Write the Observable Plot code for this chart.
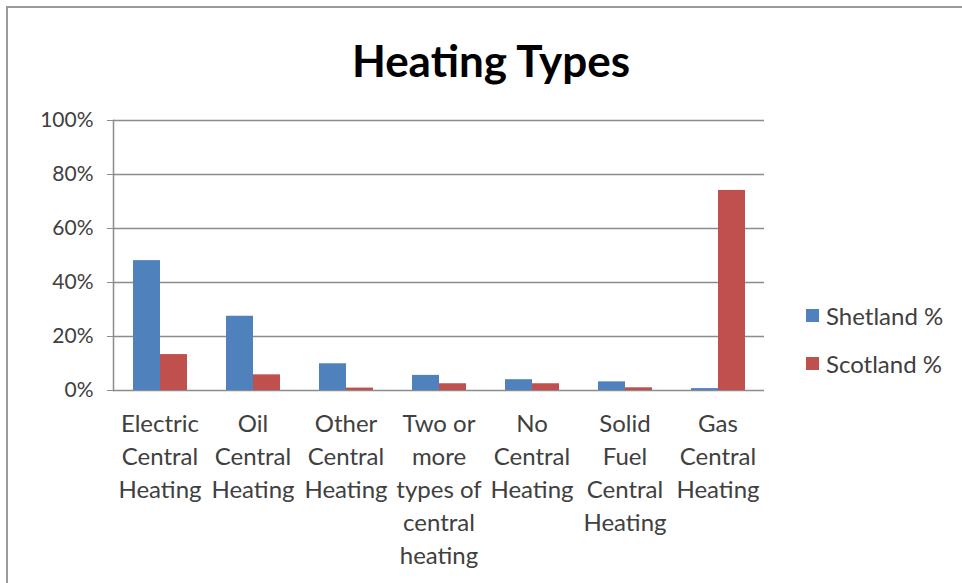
<!DOCTYPE html>
<html>
<head>
<meta charset="utf-8">
<script src="https://cdn.jsdelivr.net/npm/d3@7"></script>
<script src="https://cdn.jsdelivr.net/npm/@observablehq/plot@0.6"></script>
<style>
  html, body { margin: 0; padding: 0; background: #fff; }
  #wrap { position: relative; width: 962px; height: 583px; overflow: hidden; font-family: Lato, sans-serif; }
  #frame { position: absolute; left: 6px; top: 6px; width: 1000px; height: 1000px; border-left: 2px solid #9a9a9a; border-top: 2px solid #9a9a9a; }
  #title { position: absolute; left: 0; width: 982px; top: 38px; text-align: center; font-size: 44px; line-height: 44px; font-weight: bold; color: #000; }
  #chart { position: absolute; left: 0; top: 100px; }
  #legend { position: absolute; left: 806px; top: 302px; font-size: 24px; color: #404040; }
  .item { display: flex; align-items: center; height: 26px; margin-bottom: 22px; }
  .sw { width: 13px; height: 13px; margin-right: 7px; }
</style>
</head>
<body>
<div id="wrap">
  <div id="frame"></div>
  <div id="title">Heating Types</div>
  <div id="chart"></div>
  <div id="legend"></div>
</div>
<script>
const categories = [
  "Electric\nCentral\nHeating",
  "Oil\nCentral\nHeating",
  "Other\nCentral\nHeating",
  "Two or\nmore\ntypes of\ncentral\nheating",
  "No\nCentral\nHeating",
  "Solid\nFuel\nCentral\nHeating",
  "Gas\nCentral\nHeating"
];
const series = ["Shetland %", "Scotland %"];
const shetland = [48.1, 27.5, 9.9, 5.6, 4.0, 3.2, 0.7];
const scotland = [13.3, 5.8, 0.9, 2.5, 2.5, 1.0, 74.1];
const colors = ["#4F81BD", "#C0504D"];
const yTicks = [0, 20, 40, 60, 80, 100];

const data = [];
categories.forEach((c, i) => {
  data.push({category: c, series: series[0], value: shetland[i]});
  data.push({category: c, series: series[1], value: scotland[i]});
});

const gridColor = "#8c8c8c";
const textColor = "#404040";

const chart = Plot.plot({
  width: 780,
  height: 483,
  marginLeft: 112,
  marginRight: 16,
  marginTop: 20,
  marginBottom: 193,
  style: {fontFamily: "Lato, sans-serif", background: "transparent", overflow: "visible"},
  fx: {domain: categories, padding: 0, label: null},
  x: {domain: series, paddingInner: 0, paddingOuter: 0.72, axis: null},
  y: {domain: [0, 100], label: null},
  color: {domain: series, range: colors},
  marks: [
    Plot.ruleY(yTicks, {stroke: gridColor, strokeWidth: 1.5}),
    Plot.frame({anchor: "left", facetAnchor: "left", stroke: gridColor, strokeWidth: 1.5}),
    Plot.barY(data, {fx: "category", x: "series", y: "value", fill: "series"}),
    Plot.axisY({ticks: yTicks, tickFormat: d => d + "%", tickSize: 6, tickPadding: 14, fontSize: 21, color: textColor, stroke: gridColor, label: null}),
    Plot.axisFx({anchor: "bottom", tickSize: 0, tickPadding: 18, fontSize: 24, lineHeight: 1.375, color: textColor, label: null})
  ]
});
document.getElementById("chart").appendChild(chart);

const legend = document.getElementById("legend");
series.forEach((s, i) => {
  const item = document.createElement("div");
  item.className = "item";
  const sw = document.createElement("span");
  sw.className = "sw";
  sw.style.background = colors[i];
  const t = document.createElement("span");
  t.textContent = s;
  item.appendChild(sw);
  item.appendChild(t);
  legend.appendChild(item);
});
</script>
</body>
</html>
